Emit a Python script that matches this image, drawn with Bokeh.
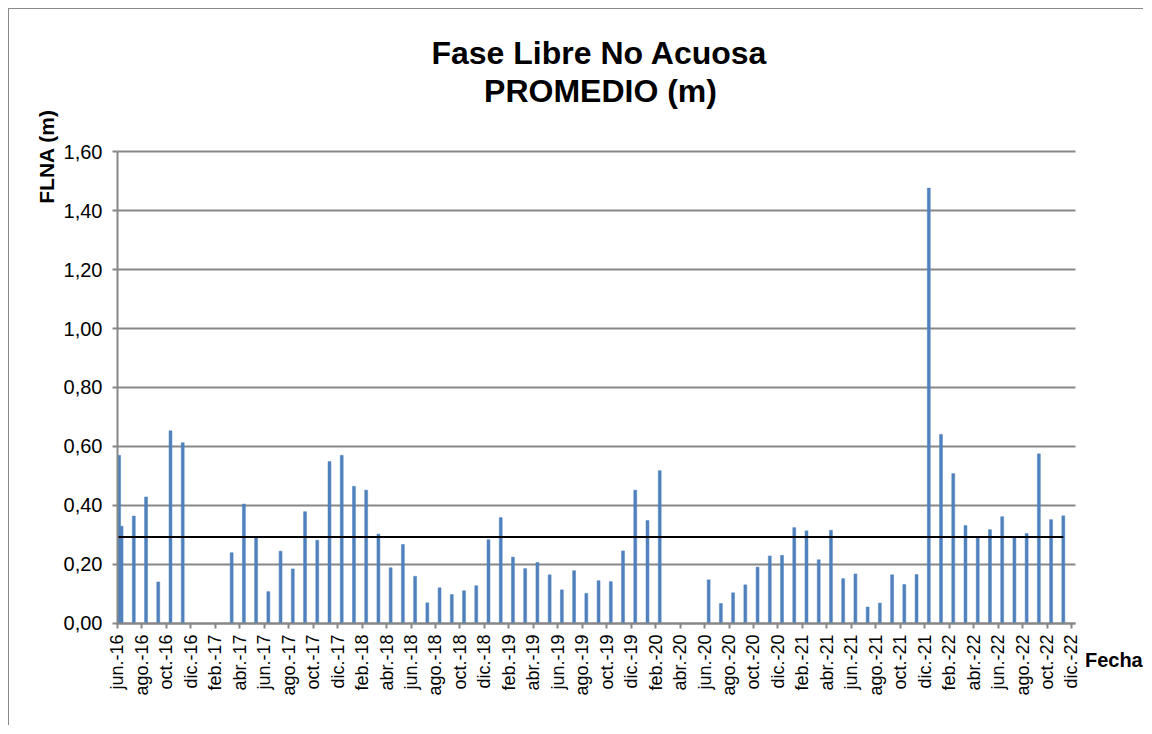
import math
import numpy as np
from bokeh.plotting import figure
from bokeh.models import FixedTicker, CustomJSTickFormatter, Label, Range1d, ColumnDataSource
from bokeh.embed import file_html
from bokeh.resources import INLINE

# ---------------- data ----------------
dates = [
    "2016-06-05", "2016-06-11", "2016-07-11", "2016-08-11", "2016-09-11", "2016-10-11", "2016-11-11",
    "2017-03-11", "2017-04-11", "2017-05-11", "2017-06-11", "2017-07-11", "2017-08-11",
    "2017-09-11", "2017-10-11", "2017-11-11", "2017-12-11",
    "2018-01-11", "2018-02-11", "2018-03-11", "2018-04-11", "2018-05-11", "2018-06-11",
    "2018-07-11", "2018-08-11", "2018-09-11", "2018-10-11", "2018-11-11", "2018-12-11",
    "2019-01-11", "2019-02-11", "2019-03-11", "2019-04-11", "2019-05-11", "2019-06-11",
    "2019-07-11", "2019-08-11", "2019-09-11", "2019-10-11", "2019-11-11", "2019-12-11",
    "2020-01-11", "2020-02-11",
    "2020-06-11", "2020-07-11", "2020-08-11", "2020-09-11", "2020-10-11", "2020-11-11", "2020-12-11",
    "2021-01-11", "2021-02-11", "2021-03-11", "2021-04-11", "2021-05-11", "2021-06-11",
    "2021-07-11", "2021-08-11", "2021-09-11", "2021-10-11", "2021-11-11", "2021-12-11",
    "2022-01-11", "2022-02-11", "2022-03-11", "2022-04-11", "2022-05-11", "2022-06-11",
    "2022-07-11", "2022-08-11", "2022-09-11", "2022-10-11", "2022-11-11",
]
flna = [
    0.570, 0.330, 0.364, 0.429, 0.141, 0.653, 0.613,
    0.240, 0.405, 0.291, 0.108, 0.245, 0.185, 0.379, 0.282, 0.549, 0.570,
    0.465, 0.452, 0.303, 0.189, 0.268, 0.160, 0.070, 0.121, 0.098, 0.111, 0.128, 0.284,
    0.359, 0.225, 0.186, 0.207, 0.165, 0.114, 0.179, 0.102, 0.145, 0.142, 0.246, 0.452,
    0.349, 0.518,
    0.148, 0.068, 0.104, 0.131, 0.191, 0.229, 0.231,
    0.325, 0.314, 0.216, 0.316, 0.152, 0.168, 0.056, 0.069, 0.165, 0.132, 0.166, 1.476,
    0.641, 0.508, 0.332, 0.291, 0.318, 0.362, 0.291, 0.305, 0.575, 0.352, 0.365,
]
tick_labels = [
    "jun.-16", "ago.-16", "oct.-16", "dic.-16", "feb.-17", "abr.-17", "jun.-17", "ago.-17",
    "oct.-17", "dic.-17", "feb.-18", "abr.-18", "jun.-18", "ago.-18", "oct.-18", "dic.-18",
    "feb.-19", "abr.-19", "jun.-19", "ago.-19", "oct.-19", "dic.-19", "feb.-20", "abr.-20",
    "jun.-20", "ago.-20", "oct.-20", "dic.-20", "feb.-21", "abr.-21", "jun.-21", "ago.-21",
    "oct.-21", "dic.-21", "feb.-22", "abr.-22", "jun.-22", "ago.-22", "oct.-22", "dic.-22",
]
y_ticks = [0.0, 0.2, 0.4, 0.6, 0.8, 1.0, 1.2, 1.4, 1.6]

# months since jun-2016 (date-axis position)
def month_pos(d):
    y, m, dd = (int(v) for v in d.split("-"))
    return (y - 2016) * 12 + (m - 6) + (dd - 1) / 30.0

xs = [month_pos(d) for d in dates]
avg = float(np.mean(flna))
x_ticks = list(range(0, 2 * len(tick_labels), 2))

FONT = "Liberation Sans"
GRAY = "#878787"
X_END = 78.33          # right end of the plotting area (months)
Y_END = 1.6

# frame covers the whole canvas; axes are pinned at 0 so all texts live inside it
p = figure(width=1135, height=717, output_backend="svg", toolbar_location=None,
           x_range=Range1d(-8.83, 83.97), y_range=Range1d(-0.3492, 2.0814),
           min_border_left=0, min_border_top=0, min_border_right=0, min_border_bottom=0,
           styles={"margin-left": "8px", "margin-top": "8px",
                   "border-top": "1px solid #8a8a8a", "border-left": "1px solid #8a8a8a"})
p.outline_line_color = None
p.background_fill_color = "white"
p.border_fill_color = "white"
p.xgrid.visible = False
p.ygrid.visible = False

# horizontal gridlines at the y ticks
p.segment(x0=[0] * len(y_ticks), x1=[X_END] * len(y_ticks), y0=y_ticks, y1=y_ticks,
          line_color=GRAY, line_width=2)

src = ColumnDataSource(dict(x=xs, top=flna))
p.vbar(x="x", top="top", bottom=0, width=0.24, source=src,
       fill_color="#4F81BD", line_color="#4F81BD", line_width=0.5)
p.line(x=[xs[0] - 0.13, xs[-1]], y=[avg, avg], line_color="black", line_width=2)

# axes
p.xaxis.fixed_location = 0
p.yaxis.fixed_location = 0
p.xaxis.bounds = (0, X_END)
p.yaxis.bounds = (0, Y_END)
p.xaxis.ticker = FixedTicker(ticks=x_ticks, minor_ticks=[])
p.xaxis.major_label_overrides = {t: lab for t, lab in zip(x_ticks, tick_labels)}
p.xaxis.major_label_orientation = math.pi / 2
p.yaxis.ticker = FixedTicker(ticks=y_ticks, minor_ticks=[])
p.yaxis.formatter = CustomJSTickFormatter(code="return tick.toFixed(2).replace('.', ',');")
for ax in (p.xaxis[0], p.yaxis[0]):
    ax.axis_line_color = GRAY
    ax.axis_line_width = 2
    ax.major_tick_line_color = GRAY
    ax.major_tick_line_width = 2
    ax.major_tick_out = 5
    ax.major_tick_in = 0
    ax.minor_tick_line_color = None
    ax.major_label_text_font = FONT
    ax.major_label_text_color = "black"
p.xaxis.major_label_text_font_size = "18px"
p.yaxis.major_label_text_font_size = "20px"
p.xaxis.major_label_standoff = 6
p.yaxis.major_label_standoff = 10

common = dict(text_font=FONT, text_font_style="bold", text_baseline="middle", text_color="black")
p.add_layout(Label(x=39.41, y=1.9356, text="Fase Libre No Acuosa", text_font_size="32px",
                   text_align="center", **common))
p.add_layout(Label(x=39.49, y=1.8068, text="PROMEDIO (m)", text_font_size="32px",
                   text_align="center", **common))
p.add_layout(Label(x=-5.764, y=1.583, text="FLNA (m)", angle=math.pi / 2, text_font_size="21px",
                   text_align="center", **common))
p.add_layout(Label(x=79.1, y=-0.1254, text="Fecha", text_font_size="20px",
                   text_align="left", **common))

open("out.html", "w").write(file_html(p, INLINE))
